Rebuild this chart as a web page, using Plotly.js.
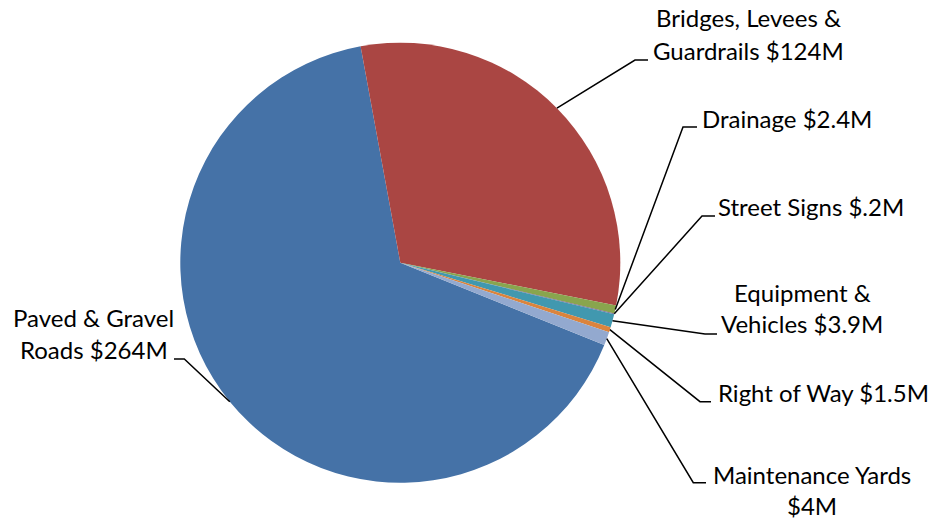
<!DOCTYPE html>
<html>
<head>
<meta charset="utf-8">
<script src="https://cdn.plot.ly/plotly-3.0.1.min.js"></script>
<style>html,body{margin:0;padding:0;background:#fff;}#chart{width:931px;height:521px;}</style>
</head>
<body>
<div id="chart"></div>
<script>
// ---- data ----
const categories = ['Paved & Gravel Roads', 'Bridges, Levees & Guardrails', 'Drainage', 'Street Signs', 'Equipment & Vehicles', 'Right of Way', 'Maintenance Yards'];
const values = [264, 124, 2.4, 0.2, 3.9, 1.5, 4];
const labelLines = [
  ['Paved & Gravel', 'Roads $264M'],
  ['Bridges, Levees &', 'Guardrails $124M'],
  ['Drainage $2.4M'],
  ['Street Signs $.2M'],
  ['Equipment &', 'Vehicles $3.9M'],
  ['Right of Way $1.5M'],
  ['Maintenance Yards', '$4M']
];
const colors = ['#4572A7', '#AA4643', '#89A54E', '#71588F', '#4198AF', '#DB843D', '#93A9CF'];

// ---- layout settings ----
const W = 931, H = 521;
const CX = 400.3, CY = 262.7, R = 220;
const ROTATION = 112;
const FONT = 'Lato, "Open Sans", sans-serif';
const FS = 24;
const BASE_OFF = 9.3;
// label placement: elbow, end of leader, text x, anchor, baselines
const place = [
  {elbow: [184.3, 359], end: [174, 359], tx: 93.7, anchor: 'center', base: [326.7, 358.3]},
  {elbow: [635, 60], end: [648, 60], tx: 748, anchor: 'center', base: [27, 60]},
  {elbow: [683, 127], end: [697, 127], tx: 700, anchor: 'left', base: [128]},
  {elbow: [702, 216], end: [715, 216], tx: 716, anchor: 'left', base: [216]},
  {elbow: [705, 334], end: [717, 334], tx: 802, anchor: 'center', base: [301.7, 333]},
  {elbow: [700, 401.7], end: [711, 401.7], tx: 716, anchor: 'left', base: [401.7]},
  {elbow: [693.3, 482.7], end: [706, 482.7], tx: 812, anchor: 'center', base: [484, 515]}
];

const px = x => x / W;
const py = y => 1 - y / H;

// slice mid-angles from the data (clockwise from 12 o'clock)
const total = values.reduce((a, b) => a + b, 0);
let acc = ROTATION;
const mids = values.map(v => { const span = 360 * v / total; const m = acc + span / 2; acc += span; return m; });

const shapes = [], annotations = [];
mids.forEach((m, i) => {
  const a = m * Math.PI / 180;
  const ax = CX + R * Math.sin(a), ay = CY - R * Math.cos(a);
  const p = place[i];
  shapes.push({
    type: 'path', xref: 'paper', yref: 'paper',
    path: `M ${px(ax)} ${py(ay)} L ${px(p.elbow[0])} ${py(p.elbow[1])} L ${px(p.end[0])} ${py(p.end[1])}`,
    line: {color: '#000000', width: 1.5}
  });
  labelLines[i].forEach((t, j) => {
    annotations.push({
      xref: 'paper', yref: 'paper', x: px(p.tx), y: py(p.base[j] - BASE_OFF),
      xanchor: p.anchor, yanchor: 'middle', text: t, showarrow: false,
      font: {family: FONT, size: FS, color: '#000000'}
    });
  });
});

const trace = {
  type: 'pie', labels: categories, values: values, sort: false,
  direction: 'clockwise', rotation: ROTATION,
  marker: {colors: colors, line: {width: 0}},
  textinfo: 'none', hoverinfo: 'label+value',
  domain: {x: [(CX - R) / W, (CX + R) / W], y: [1 - (CY + R) / H, 1 - (CY - R) / H]}
};

Plotly.newPlot('chart', [trace], {
  width: W, height: H, margin: {l: 0, r: 0, t: 0, b: 0},
  showlegend: false, paper_bgcolor: '#ffffff',
  shapes: shapes, annotations: annotations
}, {displayModeBar: false, staticPlot: true});
</script>
</body>
</html>
